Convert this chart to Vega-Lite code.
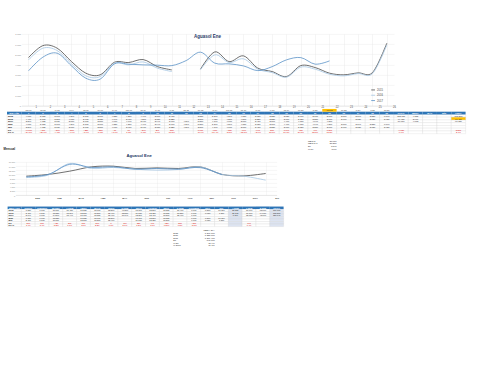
{
"$schema":"https://vega.github.io/schema/vega-lite/v6.json",
"padding":{"left":3,"top":32.85,"right":2,"bottom":2},
"bounds":"flush",
"spacing":0,
"config":{"view":{"stroke":null},"font":"Liberation Sans","locale":{"number":{"decimal":",","thousands":".","grouping":[3],"currency":["","€"]}}},
"datasets":{
"days":[
{"d":1,"wd":"ma 01","2015":4680,"2016":4460,"2017":3390,"mx":4680,"mn":3390,"dif":-1070,"difp":-0.240},
{"d":2,"wd":"mi 02","2015":5850,"2016":5600,"2017":4720,"mx":5850,"mn":4720,"dif":-880,"difp":-0.157},
{"d":3,"wd":"ju 03","2015":5600,"2016":5370,"2017":5110,"mx":5600,"mn":5110,"dif":-260,"difp":-0.048},
{"d":4,"wd":"vi 04","2015":4290,"2016":4070,"2017":3870,"mx":4290,"mn":3870,"dif":-200,"difp":-0.049},
{"d":5,"wd":"sá 05","2015":3160,"2016":2900,"2017":2670,"mx":3160,"mn":2670,"dif":-230,"difp":-0.079},
{"d":6,"wd":"do 06","2015":3000,"2016":2830,"2017":2580,"mx":3000,"mn":2580,"dif":-250,"difp":-0.088},
{"d":7,"wd":"lu 07","2015":4230,"2016":4140,"2017":4070,"mx":4230,"mn":4070,"dif":-70,"difp":-0.017},
{"d":8,"wd":"ma 08","2015":4200,"2016":3970,"2017":4040,"mx":4200,"mn":3970,"dif":70,"difp":0.018},
{"d":9,"wd":"mi 09","2015":4490,"2016":4260,"2017":3970,"mx":4490,"mn":3970,"dif":-290,"difp":-0.068},
{"d":10,"wd":"ju 10","2015":3800,"2016":3650,"2017":3940,"mx":3940,"mn":3650,"dif":290,"difp":0.079},
{"d":11,"wd":"vi 11","2015":3480,"2016":3320,"2017":3900,"mx":3900,"mn":3320,"dif":580,"difp":0.175},
{"d":12,"wd":"sá 12","2015":null,"2016":null,"2017":4390,"mx":4390,"mn":4390,"dif":null,"difp":null},
{"d":13,"wd":"do 13","2015":3550,"2016":3500,"2017":5210,"mx":5210,"mn":3500,"dif":1710,"difp":0.489},
{"d":14,"wd":"lu 14","2015":5240,"2016":4950,"2017":4140,"mx":5240,"mn":4140,"dif":-810,"difp":-0.164},
{"d":15,"wd":"ma 15","2015":4290,"2016":4200,"2017":4070,"mx":4290,"mn":4070,"dif":-130,"difp":-0.031},
{"d":16,"wd":"mi 16","2015":4850,"2016":4560,"2017":3870,"mx":4850,"mn":3870,"dif":-690,"difp":-0.151},
{"d":17,"wd":"ju 17","2015":3650,"2016":3550,"2017":3410,"mx":3650,"mn":3410,"dif":-140,"difp":-0.039},
{"d":18,"wd":"vi 18","2015":3320,"2016":3220,"2017":3800,"mx":3800,"mn":3220,"dif":580,"difp":0.180},
{"d":19,"wd":"sá 19","2015":2830,"2016":2770,"2017":4460,"mx":4460,"mn":2770,"dif":1690,"difp":0.610},
{"d":20,"wd":"do 20","2015":3900,"2016":3750,"2017":4680,"mx":4680,"mn":3750,"dif":930,"difp":0.248},
{"d":21,"wd":"lu 21","2015":3710,"2016":3550,"2017":4040,"mx":4040,"mn":3550,"dif":490,"difp":0.138},
{"d":22,"wd":"ma 22","2015":3160,"2016":3060,"2017":4360,"mx":4360,"mn":3060,"dif":1300,"difp":0.425},
{"d":23,"wd":"mi 23","2015":3000,"2016":2900,"2017":null,"mx":3000,"mn":2900,"dif":null,"difp":null},
{"d":24,"wd":"ju 24","2015":3190,"2016":3120,"2017":null,"mx":3190,"mn":3120,"dif":null,"difp":null},
{"d":25,"wd":"vi 25","2015":3220,"2016":3120,"2017":null,"mx":3220,"mn":3120,"dif":null,"difp":null},
{"d":26,"wd":"sá 26","2015":6090,"2016":5920,"2017":null,"mx":6090,"mn":5920,"dif":null,"difp":null}
],
"tside":[
{"d":"c0","h":"Día / Año","2015":"2015","2016":"2016","2017":"2017","mx":"Máx","mn":"Mín","dif":"Dif","difp":"Dif %"},
{"d":"e1","h":"TOTAL","2015":"103.880","2016":"99.430","2017":"89.610","mx":null,"mn":null,"dif":"-9.820","difp":"-9,9%"},
{"d":"e2","h":"MEDIA","2015":"4.155","2016":"3.977","2017":"4.073","mx":null,"mn":null,"dif":null,"difp":null},
{"d":"e3","h":"MÁX","2015":null,"2016":null,"2017":null,"mx":null,"mn":null,"dif":null,"difp":null},
{"d":"e4","h":"MÍN","2015":null,"2016":null,"2017":null,"mx":null,"mn":null,"dif":null,"difp":null},
{"d":"e5","h":"PREV.","2015":"101.200","2016":"96.450","2017":"98.730","mx":null,"mn":null,"dif":"2.280","difp":"2,4%"}
],
"tsum":[
{"d":21,"r":"s1","v":"MES M","a":"l"},{"d":22,"r":"s1","v":"89.610","a":"r"},
{"d":21,"r":"s2","v":"MES M-1","a":"l"},{"d":22,"r":"s2","v":"86.270","a":"r"},
{"d":21,"r":"s3","v":"Dif","a":"l"},{"d":22,"r":"s3","v":"3.340","a":"r"},
{"d":21,"r":"s4","v":"% dif","a":"l"},{"d":22,"r":"s4","v":"3,9%","a":"r"}
],
"mon":[
{"d":"c0","h":"MES / AÑO","k":"c","2015":"2015","2016":"2016","2017":"2017","mx":"Máx","mn":"Mín","dif":"Dif","difp":"Dif %"},
{"d":"ENE","h":"ENERO","k":"m","2015":9080,"2016":8450,"2017":8740,"mx":9080,"mn":8450,"dif":290,"difp":0.034},
{"d":"FEB","h":"FEBRERO","k":"m","2015":9900,"2016":9570,"2017":9900,"mx":9900,"mn":9570,"dif":330,"difp":0.034},
{"d":"MAR","h":"MARZO","k":"m","2015":11500,"2016":15220,"2017":14800,"mx":15220,"mn":11500,"dif":-420,"difp":-0.028},
{"d":"T1","h":"1 TRIM","k":"t","2015":30480,"2016":33240,"2017":33440,"mx":null,"mn":null,"dif":200,"difp":0.006},
{"d":"ABR","h":"ABRIL","k":"m","2015":13580,"2016":12800,"2017":13300,"mx":13580,"mn":12800,"dif":500,"difp":0.039},
{"d":"MAY","h":"MAYO","k":"m","2015":13910,"2016":13290,"2017":13580,"mx":13910,"mn":13290,"dif":290,"difp":0.022},
{"d":"JUN","h":"JUNIO","k":"m","2015":12800,"2016":12460,"2017":12460,"mx":12800,"mn":12460,"dif":0,"difp":0},
{"d":"T2","h":"2 TRIM","k":"t","2015":40290,"2016":38550,"2017":39340,"mx":null,"mn":null,"dif":790,"difp":0.020},
{"d":"JUL","h":"JULIO","k":"m","2015":13090,"2016":11980,"2017":12800,"mx":13090,"mn":11980,"dif":820,"difp":0.068},
{"d":"AGO","h":"AGOSTO","k":"m","2015":12800,"2016":12320,"2017":12460,"mx":12800,"mn":12320,"dif":140,"difp":0.011},
{"d":"SEP","h":"SEPT.","k":"m","2015":13580,"2016":13580,"2017":13200,"mx":13580,"mn":13200,"dif":-380,"difp":-0.028},
{"d":"T3","h":"3 TRIM","k":"t","2015":39470,"2016":37880,"2017":38460,"mx":null,"mn":null,"dif":580,"difp":0.015},
{"d":"OCT","h":"OCTUBRE","k":"m","2015":9900,"2016":9900,"2017":9700,"mx":9900,"mn":9700,"dif":-200,"difp":-0.020},
{"d":"NOV","h":"NOV.","k":"m","2015":9230,"2016":9080,"2017":null,"mx":9230,"mn":9080,"dif":null,"difp":null},
{"d":"DIC","h":"DIC.","k":"m","2015":10390,"2016":7150,"2017":null,"mx":10390,"mn":7150,"dif":null,"difp":null},
{"d":"T4","h":"4 TRIM","k":"t","2015":29520,"2016":26130,"2017":9700,"mx":null,"mn":null,"dif":null,"difp":null},
{"d":"S1","h":"1 SEM","k":"t","2015":70770,"2016":71790,"2017":72780,"mx":null,"mn":null,"dif":990,"difp":0.014},
{"d":"S2","h":"2 SEM","k":"t","2015":68990,"2016":64010,"2017":48160,"mx":null,"mn":null,"dif":null,"difp":null},
{"d":"TOT","h":"TOTAL","k":"t","2015":139760,"2016":135800,"2017":120940,"mx":null,"mn":null,"dif":null,"difp":null}
],
"bsum":[
{"d":"NOV","r":"t1","v":"MEDIA DÍA","a":"r"},
{"d":"T3","r":"t2","v":"2015","a":"l"},{"d":"NOV","r":"t2","v":"1.397.600","a":"r"},
{"d":"T3","r":"t3","v":"2016","a":"l"},{"d":"NOV","r":"t3","v":"1.358.000","a":"r"},
{"d":"T3","r":"t4","v":"2017","a":"l"},{"d":"NOV","r":"t4","v":"1.209.400","a":"r"},
{"d":"T3","r":"t5","v":"Dif","a":"l"},{"d":"NOV","r":"t5","v":"-148.600","a":"r"},
{"d":"T3","r":"t6","v":"% Dif","a":"l"},{"d":"NOV","r":"t6","v":"-10,9%","a":"r"},
{"d":"T3","r":"t7","v":"% 2017","a":"l"},{"d":"NOV","r":"t7","v":"89,1%","a":"r"}
]
},
"vconcat":[
{
"width":387,"height":71.7,
"data":{"name":"days"},
"title":{"text":"Aguasol Ene","fontSize":4.5,"fontWeight":"bold","color":"#1f3864","offset":-6,"dx":7,"anchor":"middle"},
"transform":[{"fold":["2015","2016","2017"],"as":["serie","v"]}],
"mark":{"type":"line","interpolate":"cardinal","strokeWidth":0.8,"invalid":"break-paths-show-domains"},
"encoding":{
"x":{"field":"d","type":"ordinal","scale":{"domain":[1,2,3,4,5,6,7,8,9,10,11,12,13,14,15,16,17,18,19,20,21,22,23,24,25,26],"range":[14.33,387],"paddingInner":0,"paddingOuter":0},
"axis":{"title":null,"labelAngle":0,"labelFontSize":2.6,"labelColor":"#404040","labelPadding":0.4,"ticks":false,"domainColor":"#d9d9d9","domainWidth":0.5,"grid":true,"gridColor":"#e6e6e6","gridWidth":0.4,"bandPosition":0,"labelOffset":7.17,"labelBaseline":"top"}},
"y":{"field":"v","type":"quantitative","scale":{"domain":[0,7000],"nice":false},
"axis":{"title":null,"values":[0,1000,2000,3000,4000,5000,6000,7000],"format":",.0f","labelFontSize":2.3,"labelColor":"#7f7f7f","offset":-14.33,"domain":false,"ticks":false,"labelPadding":0.8,"grid":true,"gridColor":"#e6e6e6","gridWidth":0.4}},
"color":{"field":"serie","type":"nominal","scale":{"domain":["2015","2016","2017"],"range":["#4a4a4a","#a6c6e3","#5b92c6"]},
"legend":{"title":null,"orient":"none","legendX":363.6,"legendY":53.6,"direction":"vertical","symbolType":"stroke","symbolSize":14,"symbolStrokeWidth":0.8,"labelFontSize":2.6,"labelColor":"#404040","rowPadding":0.3,"padding":0,"labelOffset":1.5}}
}
},
{
"width":458.6,"height":56,
"layer":[
{"data":{"name":"days"},"transform":[{"fold":["2015","2016","2017","mx","mn","dif","difp"],"as":["r","v"]}],
"mark":{"type":"rect","fill":"#ffffff","stroke":"#cfcfcf","strokeWidth":0.25},
"encoding":{"x":{"field":"d","type":"ordinal","scale":{"domain":["c0",1,2,3,4,5,6,7,8,9,10,11,12,13,14,15,16,17,18,19,20,21,22,23,24,25,26,"e1","e2","e3","e4","e5"],"range":[0,458.6],"paddingInner":0,"paddingOuter":0},"axis":null},
"y":{"field":"r","type":"ordinal","scale":{"domain":["lab","hdr","2015","2016","2017","mx","mn","dif","difp","g1","g2","s1","s2","s3","s4"],"range":[3.1,44.35],"paddingInner":0,"paddingOuter":0},"axis":null}}},
{"data":{"name":"tside"},"transform":[{"fold":["2015","2016","2017","mx","mn","dif","difp"],"as":["r","v"]}],
"mark":{"type":"rect","fill":"#ffffff","stroke":"#cfcfcf","strokeWidth":0.25},
"encoding":{"x":{"field":"d","type":"ordinal","axis":null},"y":{"field":"r","type":"ordinal","axis":null}}},
{"data":{"name":"days"},"mark":{"type":"rect","fill":"#2e75b6"},
"encoding":{"x":{"field":"d","type":"ordinal","axis":null},"y":{"datum":"hdr","type":"ordinal","axis":null}}},
{"data":{"name":"tside"},"mark":{"type":"rect","fill":"#2e75b6"},
"encoding":{"x":{"field":"d","type":"ordinal","axis":null},"y":{"datum":"hdr","type":"ordinal","axis":null}}},
{"data":{"name":"days"},"transform":[{"filter":"datum.d===22"}],"mark":{"type":"rect","fill":"#ffc000"},
"encoding":{"x":{"field":"d","type":"ordinal","axis":null},"y":{"datum":"lab","type":"ordinal","axis":null}}},
{"data":{"values":[{"d":"e5","r":"2016"}]},"mark":{"type":"rect","fill":"#ffc000","stroke":"#cfcfcf","strokeWidth":0.25},
"encoding":{"x":{"field":"d","type":"ordinal","axis":null},"y":{"field":"r","type":"ordinal","axis":null}}},
{"data":{"name":"days"},"mark":{"type":"text","fontSize":2.2,"color":"#ffffff","fontWeight":"bold"},
"encoding":{"x":{"field":"d","type":"ordinal","axis":null},"y":{"datum":"hdr","type":"ordinal","axis":null},"text":{"field":"d","type":"ordinal"}}},
{"data":{"name":"tside"},"mark":{"type":"text","fontSize":2.2,"color":"#ffffff","fontWeight":"bold"},
"encoding":{"x":{"field":"d","type":"ordinal","axis":null},"y":{"datum":"hdr","type":"ordinal","axis":null},"text":{"field":"h","type":"nominal"}}},
{"data":{"name":"days"},"mark":{"type":"text","fontSize":2.2,"color":"#404040"},
"encoding":{"x":{"field":"d","type":"ordinal","axis":null},"y":{"datum":"lab","type":"ordinal","axis":null},"text":{"field":"wd","type":"nominal"}}},
{"data":{"name":"days"},"transform":[{"fold":["2015","2016","2017","mx","mn","dif"],"as":["r","v"]},{"filter":"datum.v != null"}],
"mark":{"type":"text","fontSize":2.2},
"encoding":{"x":{"field":"d","type":"ordinal","axis":null},"y":{"field":"r","type":"ordinal","axis":null},"text":{"field":"v","type":"quantitative","format":",.0f"},
"color":{"condition":{"test":"datum.r==='dif'","value":"#e00000"},"value":"#262626"}}},
{"data":{"name":"days"},"transform":[{"filter":"datum.difp != null"}],
"mark":{"type":"text","fontSize":2.2,"color":"#e00000"},
"encoding":{"x":{"field":"d","type":"ordinal","axis":null},"y":{"datum":"difp","type":"ordinal","axis":null},"text":{"field":"difp","type":"quantitative","format":".1%"}}},
{"data":{"name":"tside"},"transform":[{"fold":["2015","2016","2017","mx","mn","dif","difp"],"as":["r","v"]},{"filter":"datum.d==='c0'"}],
"mark":{"type":"text","fontSize":2.3,"align":"left","dx":1,"color":"#262626","fontWeight":"bold"},
"encoding":{"x":{"field":"d","type":"ordinal","axis":null,"bandPosition":0},"y":{"field":"r","type":"ordinal","axis":null},"text":{"field":"v","type":"nominal"}}},
{"data":{"name":"tside"},"transform":[{"fold":["2015","2016","2017","mx","mn","dif","difp"],"as":["r","v"]},{"filter":"datum.d!=='c0' && datum.v != null"}],
"mark":{"type":"text","fontSize":2.2},
"encoding":{"x":{"field":"d","type":"ordinal","axis":null},"y":{"field":"r","type":"ordinal","axis":null},"text":{"field":"v","type":"nominal"},
"color":{"condition":{"test":"datum.r==='dif' || datum.r==='difp'","value":"#e00000"},"value":"#262626"}}},
{"data":{"name":"tsum"},"transform":[{"filter":"datum.a==='l'"}],
"mark":{"type":"text","fontSize":2.3,"align":"left","color":"#262626"},
"encoding":{"x":{"field":"d","type":"ordinal","axis":null,"bandPosition":0},"y":{"field":"r","type":"ordinal","axis":null},"text":{"field":"v","type":"nominal"}}},
{"data":{"name":"tsum"},"transform":[{"filter":"datum.a==='r'"}],
"mark":{"type":"text","fontSize":2.3,"align":"right","color":"#262626"},
"encoding":{"x":{"field":"d","type":"ordinal","axis":null,"bandPosition":1},"y":{"field":"r","type":"ordinal","axis":null},"text":{"field":"v","type":"nominal"}}},
{"data":{"values":[{"d":"c0","r":"s4","v":"Mensual"}]},
"mark":{"type":"text","fontSize":2.9,"align":"left","dx":-3.4,"fontWeight":"bold","color":"#1a1a1a"},
"encoding":{"x":{"field":"d","type":"ordinal","axis":null,"bandPosition":0},"y":{"field":"r","type":"ordinal","axis":null},"text":{"field":"v","type":"nominal"}}}
]
},
{
"width":269.6,"height":33.1,
"data":{"name":"mon"},
"title":{"text":"Aguasol Ene","fontSize":4.2,"fontWeight":"bold","color":"#1f3864","offset":3,"dx":-2.7,"anchor":"middle"},
"transform":[{"filter":"datum.k==='m'"},{"fold":["2015","2016","2017"],"as":["serie","v"]}],
"mark":{"type":"line","interpolate":"cardinal","strokeWidth":0.8,"invalid":"break-paths-show-domains"},
"encoding":{
"x":{"field":"d","type":"ordinal","scale":{"domain":["ENE","FEB","MAR","ABR","MAY","JUN","JUL","AGO","SEP","OCT","NOV","DIC"],"range":[8.4,269.6],"paddingInner":0,"paddingOuter":0},
"axis":{"title":null,"labelAngle":0,"labelFontSize":2.3,"labelColor":"#404040","labelPadding":1.5,"ticks":false,"domainColor":"#d9d9d9","domainWidth":0.5,"grid":true,"gridColor":"#ececec","gridWidth":0.4,"bandPosition":0,"labelOffset":10.88,"labelBaseline":"top","labelFontWeight":"bold"}},
"y":{"field":"v","type":"quantitative","scale":{"domain":[0,16000],"nice":false},
"axis":{"title":null,"values":[0,2000,4000,6000,8000,10000,12000,14000,16000],"format":",.0f","labelFontSize":2.1,"labelColor":"#7f7f7f","offset":-8.4,"domain":false,"ticks":false,"labelPadding":0.8,"grid":true,"gridColor":"#e6e6e6","gridWidth":0.4}},
"color":{"field":"serie","type":"nominal","scale":{"domain":["2015","2016","2017"],"range":["#4a4a4a","#a6c6e3","#5b92c6"]},
"legend":{"title":null,"orient":"none","legendX":120.6,"legendY":38.5,"direction":"horizontal","symbolType":"stroke","symbolSize":14,"symbolStrokeWidth":0.8,"labelFontSize":2.3,"labelColor":"#404040","columnPadding":3,"padding":0,"labelOffset":1.5}}
}
},
{
"width":276.6,"height":52,
"layer":[
{"data":{"name":"mon"},"transform":[{"fold":["2015","2016","2017","mx","mn","dif","difp"],"as":["r","v"]}],
"mark":{"type":"rect","stroke":"#cfcfcf","strokeWidth":0.25},
"encoding":{"x":{"field":"d","type":"ordinal","scale":{"domain":["c0","ENE","FEB","MAR","T1","ABR","MAY","JUN","T2","JUL","AGO","SEP","T3","OCT","NOV","DIC","T4","S1","S2","TOT"],"range":[0.6,276.6],"paddingInner":0,"paddingOuter":0},"axis":null},
"y":{"field":"r","type":"ordinal","scale":{"domain":["hdr","2015","2016","2017","mx","mn","dif","difp","g","t1","t2","t3","t4","t5","t6","t7"],"range":[10.7,50.7],"paddingInner":0,"paddingOuter":0},"axis":null},
"fill":{"condition":{"test":"datum.d==='T4' || datum.d==='TOT'","value":"#dde4f2"},"value":"#ffffff"}}},
{"data":{"name":"mon"},"mark":{"type":"rect","fill":"#2e75b6"},
"encoding":{"x":{"field":"d","type":"ordinal","axis":null},"y":{"datum":"hdr","type":"ordinal","axis":null}}},
{"data":{"name":"mon"},"mark":{"type":"text","fontSize":2.1,"color":"#ffffff","fontWeight":"bold"},
"encoding":{"x":{"field":"d","type":"ordinal","axis":null},"y":{"datum":"hdr","type":"ordinal","axis":null},"text":{"field":"h","type":"nominal"}}},
{"data":{"name":"mon"},"transform":[{"filter":"datum.k!=='c'"},{"fold":["2015","2016","2017","mx","mn","dif"],"as":["r","v"]},{"filter":"datum.v != null"}],
"mark":{"type":"text","fontSize":2.1},
"encoding":{"x":{"field":"d","type":"ordinal","axis":null},"y":{"field":"r","type":"ordinal","axis":null},"text":{"field":"v","type":"quantitative","format":",.0f"},
"color":{"condition":{"test":"datum.r==='dif'","value":"#e00000"},"value":"#262626"}}},
{"data":{"name":"mon"},"transform":[{"filter":"datum.k!=='c' && datum.difp != null"}],
"mark":{"type":"text","fontSize":2.1,"color":"#e00000"},
"encoding":{"x":{"field":"d","type":"ordinal","axis":null},"y":{"datum":"difp","type":"ordinal","axis":null},"text":{"field":"difp","type":"quantitative","format":".1%"}}},
{"data":{"name":"mon"},"transform":[{"filter":"datum.k==='c'"},{"fold":["2015","2016","2017","mx","mn","dif","difp"],"as":["r","v"]}],
"mark":{"type":"text","fontSize":2.2,"align":"left","dx":1,"color":"#262626","fontWeight":"bold"},
"encoding":{"x":{"field":"d","type":"ordinal","axis":null,"bandPosition":0},"y":{"field":"r","type":"ordinal","axis":null},"text":{"field":"v","type":"nominal"}}},
{"data":{"name":"bsum"},"transform":[{"filter":"datum.a==='l'"}],
"mark":{"type":"text","fontSize":2.2,"align":"left","color":"#262626"},
"encoding":{"x":{"field":"d","type":"ordinal","axis":null,"bandPosition":0},"y":{"field":"r","type":"ordinal","axis":null},"text":{"field":"v","type":"nominal"}}},
{"data":{"name":"bsum"},"transform":[{"filter":"datum.a==='r'"}],
"mark":{"type":"text","fontSize":2.2,"align":"right","color":"#262626"},
"encoding":{"x":{"field":"d","type":"ordinal","axis":null,"bandPosition":1},"y":{"field":"r","type":"ordinal","axis":null},"text":{"field":"v","type":"nominal"}}}
]
}
]
}
